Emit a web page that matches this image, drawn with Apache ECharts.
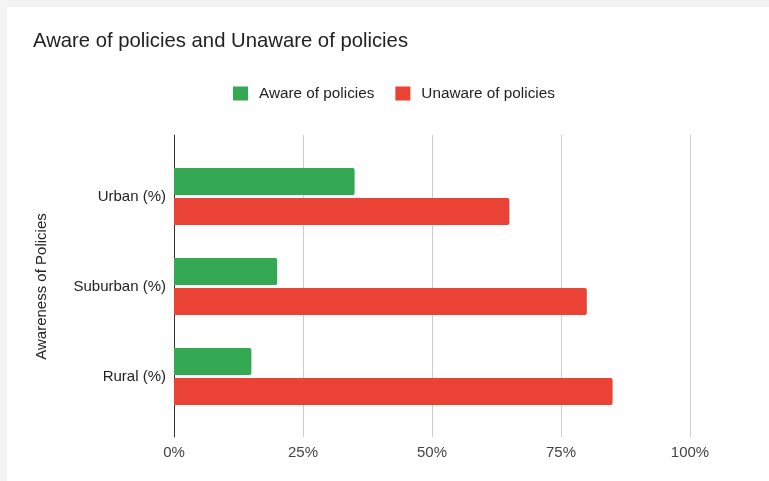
<!DOCTYPE html>
<html>
<head>
<meta charset="utf-8">
<script src="https://cdn.jsdelivr.net/npm/echarts@6/dist/echarts.min.js"></script>
<style>html,body{margin:0;padding:0;background:#fff}#c{width:769px;height:481px}</style>
</head>
<body>
<div id="c"></div>
<script>
const categories = ['Urban (%)', 'Suburban (%)', 'Rural (%)'];
const awareValues = [35, 20, 15];
const unawareValues = [65, 80, 85];
const xTicks = [0, 25, 50, 75, 100];
const seriesNames = ['Aware of policies', 'Unaware of policies'];

const FONT = '"Liberation Sans", Arial, sans-serif';
const chart = echarts.init(document.getElementById('c'));
chart.setOption({
  backgroundColor: '#ffffff',
  animation: false,
  graphic: [
    {type: 'rect', shape: {x: 0, y: 0, width: 769, height: 7}, style: {fill: '#f2f2f2'}, z: -10},
    {type: 'rect', shape: {x: 0, y: 0, width: 7, height: 481}, style: {fill: '#f4f4f4'}, z: -10}
  ],
  title: {
    text: 'Aware of policies and Unaware of policies',
    left: 28, top: 26,
    textStyle: {fontFamily: FONT, fontSize: 20.3, fontWeight: 'normal', color: '#222'}
  },
  legend: {
    left: 228, top: 81,
    itemWidth: 15, itemHeight: 14, itemGap: 21,
    icon: 'rect',
    data: seriesNames,
    textStyle: {fontFamily: FONT, fontSize: 15.3, color: '#222', padding: [0, 0, 0, 6]}
  },
  grid: [
    {left: 174, right: 79, top: 135, bottom: 44},
    {left: 174, right: 79, top: 151.5, bottom: 59.5}
  ],
  xAxis: [
    {
      type: 'value', gridIndex: 0, min: xTicks[0], max: xTicks[xTicks.length - 1], interval: 25,
      axisLine: {show: false}, axisTick: {show: false},
      axisLabel: {formatter: '{value}%', fontFamily: FONT, fontSize: 15, color: '#444', margin: 8},
      splitLine: {lineStyle: {color: '#cccccc', width: 1}}
    },
    {type: 'value', gridIndex: 1, min: 0, max: 100, show: false}
  ],
  yAxis: [
    {
      type: 'value', gridIndex: 0, min: 0, max: 1,
      axisLine: {show: true, lineStyle: {color: '#333', width: 1}},
      axisTick: {show: false}, axisLabel: {show: false}, splitLine: {show: false}
    },
    {
      type: 'category', gridIndex: 1, inverse: true, data: categories,
      axisLine: {show: false}, axisTick: {show: false},
      axisLabel: {fontFamily: FONT, fontSize: 15, color: '#222', margin: 8},
      name: 'Awareness of Policies', nameLocation: 'middle', nameRotate: 90, nameGap: 125,
      nameTextStyle: {fontFamily: FONT, fontSize: 15, color: '#222'}
    }
  ],
  series: [
    {
      name: seriesNames[0], type: 'bar', xAxisIndex: 1, yAxisIndex: 1,
      data: awareValues, barWidth: 27, barGap: '11%',
      itemStyle: {color: '#34a853', borderRadius: [0, 2, 2, 0]}
    },
    {
      name: seriesNames[1], type: 'bar', xAxisIndex: 1, yAxisIndex: 1,
      data: unawareValues, barWidth: 27, barGap: '11%',
      itemStyle: {color: '#ea4335', borderRadius: [0, 2, 2, 0]}
    }
  ]
});
</script>
</body>
</html>
